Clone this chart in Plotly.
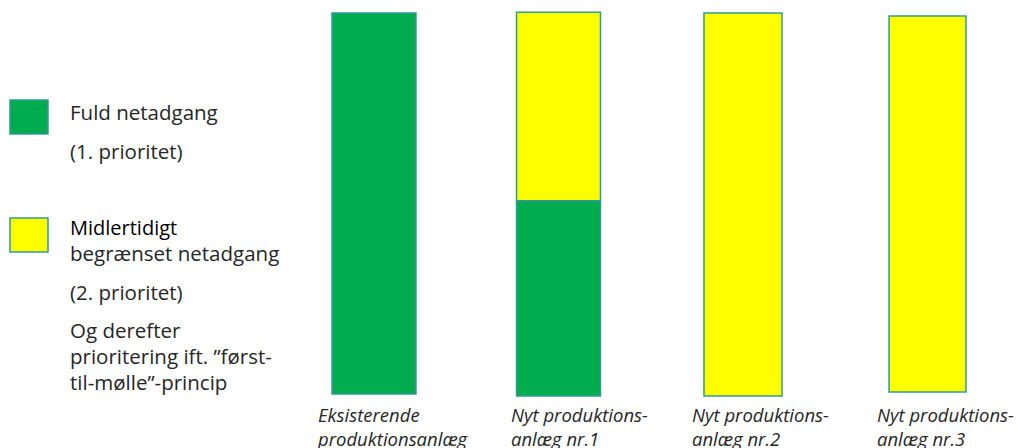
import plotly.graph_objects as go

categories = ["Eksisterende<br>produktionsanlæg", "Nyt produktions-<br>anlæg nr.1",
              "Nyt produktions-<br>anlæg nr.2", "Nyt produktions-<br>anlæg nr.3"]
green_base = [0, -0.5, None, None]
green_vals = [100, 51.2, None, None]
yellow_base = [None, 50.7, -0.5, 0.5]
yellow_vals = [None, 49.5, 100.5, 98.7]
bar_widths = [0.455, 0.455, 0.423, 0.417]

legend_lines_green = ["Fuld netadgang", "(1. prioritet)"]
legend_lines_yellow = ["begrænset netadgang", "(2. prioritet)", "Og derefter",
                       "prioritering ift. ”først-", "til-mølle”-princip"]

GREEN = "#00AC4E"
YELLOW = "#FFFF00"
EDGE = "#2E9C96"
TXT = "#262626"
FONT = "Open Sans"

W, H = 1018, 448
xs = list(range(len(categories)))

fig = go.Figure()
fig.add_trace(go.Bar(x=xs, y=green_vals, base=green_base, width=bar_widths,
                     marker=dict(color=GREEN, line=dict(color=EDGE, width=1.5)),
                     showlegend=False, hoverinfo="skip"))
fig.add_trace(go.Bar(x=xs, y=yellow_vals, base=yellow_base, width=bar_widths,
                     marker=dict(color=YELLOW, line=dict(color=EDGE, width=1.5)),
                     showlegend=False, hoverinfo="skip"))

def px(x):
    return x / W

def py(y):
    return 1 - y / H

shapes = [
    dict(type="rect", xref="paper", yref="paper", x0=px(10), x1=px(48), y0=py(134), y1=py(100),
         fillcolor=GREEN, line=dict(color=EDGE, width=1.5)),
    dict(type="rect", xref="paper", yref="paper", x0=px(10), x1=px(48), y0=py(252), y1=py(218),
         fillcolor=YELLOW, line=dict(color=EDGE, width=1.5)),
]

annotations = []
label_shift = [-59, -50, -53, -53]
for i, c in enumerate(categories):
    annotations.append(dict(x=i, y=py(400), xref="x", yref="paper", xanchor="left", yanchor="top",
                            xshift=label_shift[i], text="<i>" + c + "</i>", showarrow=False,
                            align="left", font=dict(family=FONT, size=18.5, color=TXT)))

FS = 20.5
green_y = [112, 151]
for t, yy in zip(legend_lines_green, green_y):
    annotations.append(dict(x=px(68), y=py(yy), xref="paper", yref="paper", xanchor="left", yanchor="middle",
                            text=t, showarrow=False, font=dict(family=FONT, size=FS, color=TXT)))
annotations.append(dict(x=px(68), y=py(227), xref="paper", yref="paper", xanchor="left", yanchor="middle",
                        text="Midlertidigt", showarrow=False, font=dict(family=FONT, size=20, color="#000000")))
yellow_y = [253, 292, 330, 356, 382]
for t, yy in zip(legend_lines_yellow, yellow_y):
    annotations.append(dict(x=px(68), y=py(yy), xref="paper", yref="paper", xanchor="left", yanchor="middle",
                            text=t, showarrow=False, font=dict(family=FONT, size=FS, color=TXT)))

x_per = 184.5
x0 = -374 / x_per
x1 = (W - 374) / x_per
y_per = 3.81
y_top = 394 / y_per
y_bot = -(H - 394) / y_per

fig.update_layout(
    width=W, height=H, margin=dict(l=0, r=0, t=0, b=0),
    paper_bgcolor="white", plot_bgcolor="white", barmode="overlay",
    xaxis=dict(range=[x0, x1], visible=False, fixedrange=True),
    yaxis=dict(range=[y_bot, y_top], visible=False, fixedrange=True),
    shapes=shapes, annotations=annotations,
    font=dict(family=FONT),
)

fig.write_html("out.html", config={"displayModeBar": False},
               post_script="document.body.style.margin='0';document.body.style.overflow='hidden';")
